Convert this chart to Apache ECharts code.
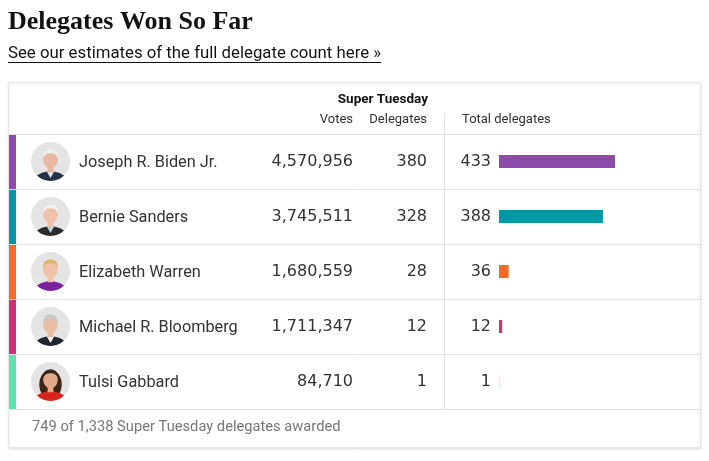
<!DOCTYPE html>
<html>
<head>
<meta charset="utf-8">
<script src="https://cdn.jsdelivr.net/npm/echarts@6/dist/echarts.min.js"></script>
<style>
  html, body { margin: 0; padding: 0; background: #fff; }
  #chart { width: 709px; height: 461px; }
</style>
</head>
<body>
<div id="chart"></div>
<script>
var candidates = ['Joseph R. Biden Jr.', 'Bernie Sanders', 'Elizabeth Warren', 'Michael R. Bloomberg', 'Tulsi Gabbard'];
var stVotes = [4570956, 3745511, 1680559, 1711347, 84710];
var stDelegates = [380, 328, 28, 12, 1];
var totalDelegates = [433, 388, 36, 12, 1];
var partyColors = ['#8d4bad', '#0098a9', '#f26b2c', '#cc3278', '#5ee0b0'];
var awarded = 749, superTuesdayTotal = 1338;

var sans = 'Roboto, "Liberation Sans", Arial, sans-serif';
var numFont = '"DejaVu Sans", Roboto, sans-serif';
var textColor = '#333';
var ruleColor = '#e2e2e2';

function fmt(n) {
    return n.toString().replace(/\B(?=(\d{3})+(?!\d))/g, ',');
}

// little drawn portraits, since no photos can be loaded
function avatar(hair, skin, suit, shirt, longHair) {
    var svg = "<svg xmlns='http://www.w3.org/2000/svg' width='40' height='40' viewBox='0 0 40 40'>" +
        "<defs><clipPath id='c'><circle cx='20' cy='20' r='20'/></clipPath></defs>" +
        "<g clip-path='url(#c)'><rect width='40' height='40' fill='#e4e4e4'/>" +
        (longHair ? "<ellipse cx='20' cy='23' rx='11.5' ry='15' fill='" + hair + "'/>" : "") +
        "<path d='M3 40 Q5 31 20 30 Q35 31 37 40 Z' fill='" + suit + "'/>" +
        "<path d='M16 30 L20 37 L24 30 Z' fill='" + shirt + "'/>" +
        "<rect x='17' y='23' width='6' height='8' fill='" + skin + "'/>" +
        "<ellipse cx='20' cy='18' rx='7.5' ry='9' fill='" + skin + "'/>" +
        "<path d='M12.3 17 Q12 8 20 7.5 Q28 8 27.7 17 Q26 11.5 20 11.5 Q14 11.5 12.3 17 Z' fill='" + hair + "'/>" +
        "</g></svg>";
    return 'data:image/svg+xml;charset=utf-8,' + encodeURIComponent(svg);
}
var portraits = [
    avatar('#eeeeee', '#e8b8a0', '#263248', '#dfe6ee', false),
    avatar('#f2f2f2', '#efc0aa', '#2b2b2b', '#b9cde0', false),
    avatar('#d9b46e', '#f0c3a8', '#7a1fa2', '#7a1fa2', false),
    avatar('#c9c9c9', '#e9bca6', '#1f2430', '#f2f2f2', false),
    avatar('#3b2418', '#e2a98a', '#d9231d', '#d9231d', true)
];

var rich = { n: { fontSize: 16.3, color: textColor, fontFamily: sans, padding: [2, 0, 0, 9] } };
portraits.forEach(function (src, i) {
    rich['a' + i] = { width: 39, height: 39, backgroundColor: { image: src } };
});

var rowsTop = 134, rowsHeight = 275;
var barLeft = 499, barWidth = 116;

function labelAxis(data, offset, align, extra) {
    var ax = {
        type: 'category',
        gridIndex: 0,
        inverse: true,
        position: 'left',
        offset: offset,
        data: data,
        axisLine: { show: false },
        axisTick: { show: false },
        axisLabel: {
            margin: 8,
            align: align,
            color: textColor,
            fontSize: 16,
            fontFamily: numFont,
            padding: [2, 0, 0, 0]
        }
    };
    if (extra) ax.axisLabel = Object.assign(ax.axisLabel, extra);
    return ax;
}

// width of the link text, for its underline
var linkText = 'See our estimates of the full delegate count here \u00bb';
var linkFont = '16.8px Roboto, "Liberation Sans", Arial, sans-serif';
var ctx = document.createElement('canvas').getContext('2d');
ctx.font = linkFont;
var linkWidth = ctx.measureText(linkText).width;

var chart = echarts.init(document.getElementById('chart'));

var option = {
    backgroundColor: '#fff',
    animation: false,
    grid: [
        // bars of total delegates
        { left: barLeft, top: rowsTop, width: barWidth, height: rowsHeight },
        // row rules across the whole card
        { left: 8, top: rowsTop, width: 693, height: rowsHeight },
        // party colour strip
        { left: 9, top: rowsTop, width: 7, height: rowsHeight }
    ],
    xAxis: [
        { type: 'value', gridIndex: 0, min: 0, max: totalDelegates[0], show: false },
        { type: 'value', gridIndex: 1, show: false },
        { type: 'value', gridIndex: 2, show: false }
    ],
    yAxis: [
        labelAxis(totalDelegates.map(fmt), 0, 'right'),
        labelAxis(stDelegates.map(fmt), 64, 'right'),
        labelAxis(stVotes.map(fmt), 138, 'right'),
        labelAxis(candidates, 460, 'left', {
            formatter: function (v, i) { return '{a' + i + '|}{n|' + v + '}'; },
            rich: rich,
            padding: 0
        }),
        {
            type: 'category', gridIndex: 2, inverse: true, data: candidates,
            axisLine: { show: false }, axisTick: { show: false }, axisLabel: { show: false },
            splitArea: { show: true, areaStyle: { color: partyColors } }
        },
        {
            type: 'category', gridIndex: 1, inverse: true, data: candidates, z: 5,
            axisLine: { show: false }, axisTick: { show: false }, axisLabel: { show: false },
            splitLine: { show: true, lineStyle: { color: ruleColor, width: 1 } }
        }
    ],
    series: [{
        type: 'bar',
        xAxisIndex: 0,
        yAxisIndex: 0,
        barWidth: 13,
        data: totalDelegates.map(function (v, i) {
            return { value: v, itemStyle: { color: partyColors[i] } };
        })
    }],
    graphic: [
        {
            type: 'rect', z: -10, silent: true,
            shape: { x: 8.5, y: 82.5, width: 692, height: 365 },
            style: { fill: '#fff', stroke: '#e6e6e6', lineWidth: 1,
                shadowBlur: 3, shadowOffsetY: 1, shadowColor: 'rgba(0,0,0,0.12)' }
        },
        {
            type: 'text', left: 8, top: 9,
            style: { text: 'Delegates Won So Far', fill: '#121212',
                font: 'bold 26px "Liberation Serif", "DejaVu Serif", serif' }
        },
        {
            type: 'text', x: 8, y: 54,
            style: { text: linkText, fill: '#121212', verticalAlign: 'middle', font: linkFont }
        },
        {
            type: 'line', silent: true,
            shape: { x1: 8, y1: 62.5, x2: 8 + linkWidth, y2: 62.5 },
            style: { stroke: '#121212', lineWidth: 1 }
        },
        {
            type: 'text', x: 428, y: 100,
            style: { text: 'Super Tuesday', fill: '#121212', align: 'right', verticalAlign: 'middle',
                font: 'bold 13.5px ' + sans }
        },
        {
            type: 'text', x: 353, y: 120,
            style: { text: 'Votes', fill: textColor, align: 'right', verticalAlign: 'middle',
                font: '13px ' + sans }
        },
        {
            type: 'text', x: 427, y: 120,
            style: { text: 'Delegates', fill: textColor, align: 'right', verticalAlign: 'middle',
                font: '13px ' + sans }
        },
        {
            type: 'text', x: 462, y: 120,
            style: { text: 'Total delegates', fill: textColor, align: 'left', verticalAlign: 'middle',
                font: '13px ' + sans }
        },
        {
            type: 'line', silent: true,
            shape: { x1: 444.5, y1: 113, x2: 444.5, y2: 409 },
            style: { stroke: ruleColor, lineWidth: 1 }
        },
        {
            type: 'text', x: 32, y: 427,
            style: { text: fmt(awarded) + ' of ' + fmt(superTuesdayTotal) + ' Super Tuesday delegates awarded',
                fill: '#777', align: 'left', verticalAlign: 'middle', font: '14.7px ' + sans }
        }
    ]
};

chart.setOption(option);
</script>
</body>
</html>
